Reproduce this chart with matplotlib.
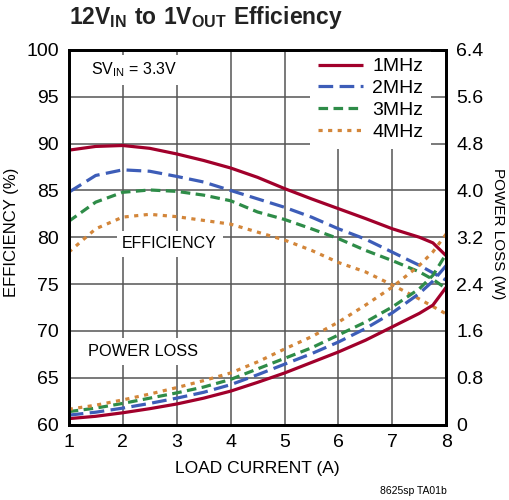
import matplotlib
matplotlib.use("Agg")
import matplotlib.pyplot as plt

plt.rcParams['font.family'] = ['Liberation Sans', 'DejaVu Sans']
plt.rcParams['mathtext.fontset'] = 'custom'
plt.rcParams['mathtext.rm'] = 'Liberation Sans'
plt.rcParams['mathtext.bf'] = 'Liberation Sans:bold'
plt.rcParams['mathtext.default'] = 'regular'

# data
load_a = [1, 1.5, 2, 2.5, 3, 3.5, 4, 4.5, 5, 5.5, 6, 6.5, 7, 7.5, 7.75, 8]
freqs = ["1MHz", "2MHz", "3MHz", "4MHz"]
eff_1m = [89.3, 89.7, 89.8, 89.5, 88.9, 88.2, 87.4, 86.4, 85.2, 84.1, 83.05, 82.0, 80.9, 80.0, 79.4, 78.0]
eff_2m = [84.8, 86.6, 87.2, 87.05, 86.5, 85.9, 85.0, 84.1, 83.2, 82.15, 80.9, 79.8, 78.4, 77.0, 76.2, 75.4]
eff_3m = [81.7, 83.75, 84.8, 85.05, 84.9, 84.5, 83.9, 82.7, 81.9, 80.9, 79.85, 78.6, 77.5, 76.3, 75.5, 74.5]
eff_4m = [78.4, 80.9, 82.15, 82.45, 82.2, 81.8, 81.4, 80.55, 79.7, 78.6, 77.3, 76.3, 74.9, 73.4, 72.6, 71.8]
loss_1m = [0.10, 0.14, 0.20, 0.27, 0.35, 0.45, 0.57, 0.72, 0.88, 1.06, 1.24, 1.44, 1.67, 1.90, 2.04, 2.35]
loss_2m = [0.16, 0.21, 0.28, 0.36, 0.45, 0.55, 0.68, 0.85, 1.03, 1.21, 1.41, 1.64, 1.91, 2.24, 2.45, 2.72]
loss_3m = [0.22, 0.28, 0.36, 0.45, 0.54, 0.64, 0.77, 0.95, 1.13, 1.31, 1.53, 1.75, 2.01, 2.32, 2.55, 2.92]
loss_4m = [0.26, 0.33, 0.42, 0.52, 0.63, 0.75, 0.88, 1.07, 1.29, 1.50, 1.75, 2.04, 2.35, 2.72, 2.95, 3.26]
loss_ticks = [0, 0.8, 1.6, 2.4, 3.2, 4.0, 4.8, 5.6, 6.4]
loss_labels = ['0', '0.8', '1.6', '2.4', '3.2', '4.0', '4.8', '5.6', '6.4']

effs = [eff_1m, eff_2m, eff_3m, eff_4m]
losses = [loss_1m, loss_2m, loss_3m, loss_4m]
colors = ['#A1002B', '#3D5DB8', '#2E8C48', '#D3863A']
dashes = [None, (4.6, 2.0), (3.0, 1.7), (1.3, 1.7)]

fig = plt.figure(figsize=(5.09, 5.0), dpi=100)
ax = fig.add_axes([0.135, 0.151, 0.742, 0.749])
ax2 = ax.twinx()

for i in range(4):
    kw = dict(color=colors[i], lw=2.3, solid_capstyle='butt', dash_capstyle='butt')
    l1, = ax.plot(load_a, effs[i], label=freqs[i], **kw)
    l2, = ax2.plot(load_a, losses[i], **kw)
    if dashes[i] is not None:
        l1.set_dashes(dashes[i])
        l2.set_dashes(dashes[i])

ax.set_xlim(1, 8)
ax.set_ylim(60, 100)
ax2.set_ylim(0, 6.4)
ax.set_xticks(range(1, 9))
ax.set_yticks(range(60, 101, 5))
ax2.set_yticks(loss_ticks)
ax2.set_yticklabels(loss_labels)
ax.grid(True, color='#555555', lw=1.1)
ax.set_axisbelow(True)
ax.tick_params(length=0, labelsize=14, pad=7)
ax2.tick_params(length=0, labelsize=14, pad=7)
for a in (ax, ax2):
    for s in a.spines.values():
        s.set_linewidth(2)
        s.set_color('black')

# axis titles
fig.text(257 / 509, 1 - 468 / 500, "LOAD CURRENT (A)", fontsize=12.5, ha='center', va='center')
fig.text(12 / 509, 1 - 232 / 500, "EFFICIENCY (%)", fontsize=12, rotation=90, ha='center', va='center')
fig.text(498 / 509, 1 - 234 / 500, "POWER LOSS (W)", fontsize=11, rotation=270, ha='center', va='center')

box = dict(facecolor='white', edgecolor='none', pad=4)
ax.text(1.42, 97.9, "$SV_{IN}$ = 3.3V", fontsize=11.5, va='center', bbox=box)
ax.text(2.87, 79.3, "EFFICIENCY", fontsize=11.5, ha='center', va='center', bbox=box)
ax.text(2.38, 67.8, "POWER LOSS", fontsize=11.8, ha='center', va='center', bbox=box)

leg = ax.legend(loc='upper right', bbox_to_anchor=(0.96, 1.0), fontsize=14,
                frameon=True, fancybox=False, framealpha=1, edgecolor='none',
                handlelength=2.3, handletextpad=0.5, labelspacing=0.22,
                borderaxespad=0.0)
leg.get_frame().set_facecolor('white')

fig.text(0.135, 0.965, r"$\mathbf{12V_{IN}\ to\ 1V_{OUT}\ Efficiency}$",
         fontsize=16.5, va='center', ha='left', color='#222222')
fig.text(0.877, 0.018, "8625sp TA01b", fontsize=7.5, ha='right', va='center')

fig.savefig("out.png", dpi=100)
